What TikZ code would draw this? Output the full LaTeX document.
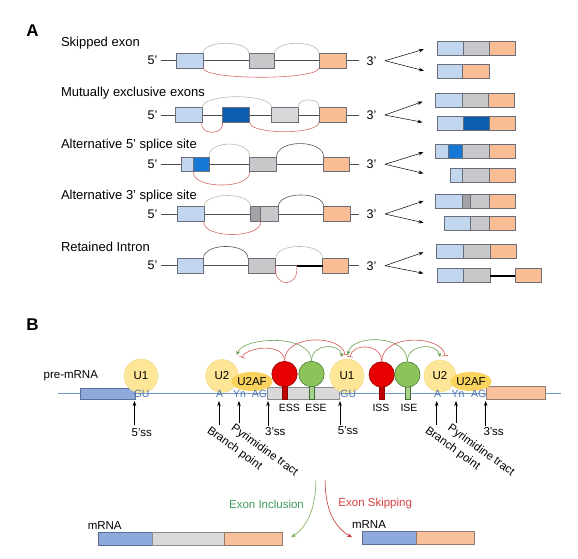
\documentclass[tikz,border=0pt]{standalone}
\usepackage{fontspec}
\setmainfont{Liberation Sans}
\usetikzlibrary{arrows.meta,shapes.geometric}
% panel A colours
\definecolor{lb}{HTML}{C3D6F0}
\definecolor{gr}{HTML}{C8C8CB}
\definecolor{og}{HTML}{F9BC93}
\definecolor{db}{HTML}{0A5DAF}
\definecolor{mb}{HTML}{1478D4}
\definecolor{dg}{HTML}{A3A3A6}
\definecolor{lg}{HTML}{D8D8DA}
\definecolor{exedge}{HTML}{6B6E78}
\definecolor{arclight}{HTML}{B8BBAA}
\definecolor{arcdark}{HTML}{555555}
\definecolor{arcred}{HTML}{D46A6A}
\definecolor{mlinec}{HTML}{4D4D4D}
% panel B colours
\definecolor{bline}{HTML}{6C9BD2}
\definecolor{bblue}{HTML}{8EA9DB}
\definecolor{bblueE}{HTML}{5A6E96}
\definecolor{bgrey}{HTML}{D9D9D9}
\definecolor{bgreyE}{HTML}{8C8C8C}
\definecolor{borange}{HTML}{F8C19C}
\definecolor{borangeE}{HTML}{8F7A6E}
\definecolor{uyel}{HTML}{FEE699}
\definecolor{uyelE}{HTML}{F0D788}
\definecolor{uaf}{HTML}{FAD35E}
\definecolor{cred}{HTML}{E60000}
\definecolor{cdred}{HTML}{8B0000}
\definecolor{sred}{HTML}{C00000}
\definecolor{cgreen}{HTML}{8DC35B}
\definecolor{cdgreen}{HTML}{3F6F2A}
\definecolor{sgreen}{HTML}{A9D18E}
\definecolor{seqblue}{HTML}{4E73AE}
\definecolor{garc}{HTML}{6E9E4E}
\definecolor{rarc}{HTML}{D55555}
\definecolor{inctext}{HTML}{3E9B5E}
\definecolor{incarrow}{HTML}{7BAA55}
\definecolor{skiptext}{HTML}{D64040}
\definecolor{skiparrow}{HTML}{C83232}
\begin{document}
\begin{tikzpicture}[x=1pt,y=-1pt,
  font=\fontsize{13}{15}\selectfont,
  ex/.style={draw=exedge, line width=0.6pt, inner sep=0pt, outer sep=0pt, anchor=west, minimum height=14.5},
  res/.style={ex, minimum height=14},
  lbl/.style={anchor=west, inner sep=0pt},
  pfive/.style={inner sep=0pt, inner xsep=3.5pt, font=\fontsize{12.5}{14}\selectfont},
  pthree/.style={inner sep=0pt, inner xsep=7pt, font=\fontsize{12.5}{14}\selectfont},
  mline/.style={draw=mlinec, line width=0.8pt},
  arcL/.style={draw=arclight, line width=0.6pt},
  arcD/.style={draw=arcdark, line width=0.6pt},
  arcR/.style={draw=arcred, line width=0.6pt},
  br/.style={-{Stealth[length=5pt,width=3.5pt]}, line width=0.5pt},
  bex/.style={line width=0.6pt, inner sep=0pt, outer sep=0pt, anchor=west},
  ucirc/.style={circle, fill=uyel, draw=uyelE, line width=0.4pt, inner sep=0pt, font=\fontsize{11.5}{13}\selectfont},
  uafel/.style={ellipse, fill=uaf, inner sep=0pt, minimum width=40, minimum height=19, font=\fontsize{11.5}{13}\selectfont},
  redc/.style={circle, fill=cred, draw=cdred, line width=0.5pt, minimum size=25.5, inner sep=0pt},
  greenc/.style={circle, fill=cgreen, draw=cdgreen, line width=0.5pt, minimum size=25.5, inner sep=0pt},
  stemr/.style={fill=sred, draw=cdred, line width=0.4pt, inner sep=0pt, anchor=north, minimum height=14},
  stemg/.style={fill=sgreen, draw=cdgreen, line width=0.4pt, inner sep=0pt, anchor=north, minimum height=14},
  seq/.style={text=seqblue, inner sep=0pt, font=\fontsize{10.5}{12}\selectfont},
  small/.style={inner sep=0pt, font=\fontsize{10.5}{12}\selectfont},
  lab/.style={inner sep=0pt, anchor=north west, font=\fontsize{11.5}{13}\selectfont},
  rot/.style={anchor=north west, rotate=-36, inner sep=0pt, font=\fontsize{11.5}{13}\selectfont},
  up/.style={-{Stealth[length=5pt,width=3.5pt]}, line width=0.5pt},
  ga/.style={draw=garc, line width=0.6pt, -{Stealth[length=4pt,width=4pt]}},
  ra/.style={draw=rarc, line width=0.6pt, -{Bar[width=6pt]}},
]
\useasboundingbox (0,0) rectangle (578,559);

%================ PANEL A ================
\node[inner sep=0pt, font=\bfseries\fontsize{17}{20}\selectfont] (A) at (32.4,30.5) {A};

% ---- Row 1: skipped exon
\node[lbl] (l1) at (60.8,42.7) {Skipped exon};
\node[pfive] (p1) at (152.6,60.7) {5’};
\node[pthree] (q1) at (371.5,60.7) {3’};
\draw[mline] (p1.east) -- (q1.west);
\node[ex, fill=lb, minimum width=26.9] (a11) at (176.2,60.7) {};
\node[ex, fill=gr, minimum width=25.8] (a12) at (248.8,60.7) {};
\node[ex, fill=og, minimum width=27] (a13) at (318.8,60.7) {};
\draw[arcL] (a11.north east) .. controls +(0,-13.5) and +(0,-13.5) .. (a12.north west);
\draw[arcL] (a12.north east) .. controls +(0,-13.5) and +(0,-13.5) .. (a13.north west);
\draw[arcR] (a11.south east) .. controls +(0,12.4) and +(0,12.4) .. (a13.south west);
\coordinate (o1) at (385.1,60.7);
\coordinate (u1) at (423.9,49.3);
\coordinate (d1) at (423.9,70.7);
\draw[br] (o1) -- (u1);
\draw[br] (o1) -- (d1);
\node[res, fill=lb, minimum width=26.5] (r11a) at (436.8,48) {};
\node[res, fill=gr, minimum width=26.2] (r11b) at (r11a.east) {};
\node[res, fill=og, minimum width=25.8] (r11c) at (r11b.east) {};
\node[res, fill=lb, minimum width=25.8] (r12a) at (436.8,71.3) {};
\node[res, fill=og, minimum width=26.9] (r12b) at (r12a.east) {};

% ---- Row 2: mutually exclusive exons
\node[lbl] (l2) at (60.8,93.3) {Mutually exclusive exons};
\node[pfive] (p2) at (152.6,115) {5’};
\node[pthree] (q2) at (371.5,115) {3’};
\draw[mline] (p2.east) -- (q2.west);
\node[ex, fill=lb, minimum width=26.5] (a21) at (175.5,115) {};
\node[ex, fill=db, minimum width=27.3] (a22) at (222.3,115) {};
\node[ex, fill=lg, minimum width=26.9] (a23) at (271.7,115) {};
\node[ex, fill=og, minimum width=27] (a24) at (318.8,115) {};
\draw[arcL] (a21.north east) .. controls +(0,-14.7) and +(0,-14.7) .. (a23.north west);
\draw[arcL] (a23.north east) .. controls +(-3,-10.5) and +(3,-10.5) .. (a24.north west);
\draw[arcR] (a21.south east) .. controls +(-3,13.4) and +(3,13.4) .. (a22.south west);
\draw[arcR] (a22.south east) .. controls +(0,12.6) and +(0,12.6) .. (a24.south west);
\coordinate (o2) at (384.8,115);
\coordinate (u2) at (422.5,101.7);
\coordinate (d2) at (422.5,122.3);
\draw[br] (o2) -- (u2);
\draw[br] (o2) -- (d2);
\node[res, fill=lb, minimum width=26.9] (r21a) at (435.7,100.5) {};
\node[res, fill=gr, minimum width=25.8] (r21b) at (r21a.east) {};
\node[res, fill=og, minimum width=25.8] (r21c) at (r21b.east) {};
\node[res, fill=lb, minimum width=26.2] (r22a) at (436.8,123.7) {};
\node[res, fill=db, minimum width=26.5] (r22b) at (r22a.east) {};
\node[res, fill=og, minimum width=25.8] (r22c) at (r22b.east) {};

% ---- Row 3: alternative 5' splice site
\node[lbl] (l3) at (60.8,145) {Alternative 5’ splice site};
\node[pfive] (p3) at (152.6,164.3) {5’};
\node[pthree] (q3) at (371.5,164.3) {3’};
\draw[mline] (p3.east) -- (q3.west);
\node[ex, fill=lb, minimum width=11.8] (a31a) at (181.7,164.3) {};
\node[ex, fill=mb, minimum width=15.5] (a31b) at (a31a.east) {};
\node[ex, fill=gr, minimum width=26.9] (a32) at (249.6,164.3) {};
\node[ex, fill=og, minimum width=25.7] (a33) at (323.7,164.3) {};
\draw[arcL] (a31b.north east) .. controls +(-2,-17.3) and +(2,-17.3) .. (a32.north west);
\draw[arcD] (a32.north east) .. controls +(0,-18) and +(0,-18) .. (a33.north west);
\draw[arcR] (a31a.south east) .. controls +(-2,18) and +(2,18) .. (a32.south west);
\coordinate (o3) at (385,164.3);
\coordinate (u3) at (423.5,152.3);
\coordinate (d3) at (423.5,173.3);
\draw[br] (o3) -- (u3);
\draw[br] (o3) -- (d3);
\node[res, fill=lb, minimum width=12.1] (r31a) at (435.7,151.2) {};
\node[res, fill=mb, minimum width=14.8] (r31b) at (r31a.east) {};
\node[res, fill=gr, minimum width=26.2] (r31c) at (r31b.east) {};
\node[res, fill=og, minimum width=26.5] (r31d) at (r31c.east) {};
\node[res, fill=lb, minimum width=12.2] (r32a) at (450.4,175) {};
\node[res, fill=gr, minimum width=26.2] (r32b) at (r32a.east) {};
\node[res, fill=og, minimum width=26.5] (r32c) at (r32b.east) {};

% ---- Row 4: alternative 3' splice site
\node[lbl] (l4) at (60.8,196) {Alternative 3’ splice site};
\node[pfive] (p4) at (152.6,214) {5’};
\node[pthree] (q4) at (371.5,214) {3’};
\draw[mline] (p4.east) -- (q4.west);
\node[ex, fill=lb, minimum width=26.1] (a41) at (177.7,214) {};
\node[ex, fill=dg, minimum width=9.9] (a42a) at (250.7,214) {};
\node[ex, fill=gr, minimum width=17.7] (a42b) at (a42a.east) {};
\node[ex, fill=og, minimum width=26.5] (a43) at (323.7,214) {};
\draw[arcL] (a41.north east) .. controls +(0,-15) and +(0,-15) .. (a42a.north west);
\draw[arcD] (a42b.north east) .. controls +(0,-15.7) and +(0,-15.7) .. (a43.north west);
\draw[arcR] (a41.south east) .. controls +(-2,17.7) and +(2,17.7) .. (a42b.south west);
\coordinate (o4) at (385,214);
\coordinate (u4) at (423.5,201);
\coordinate (d4) at (423.5,222.7);
\draw[br] (o4) -- (u4);
\draw[br] (o4) -- (d4);
\node[res, fill=lb, minimum width=26.9] (r41a) at (435.7,201.2) {};
\node[res, fill=dg, minimum width=8.1] (r41b) at (r41a.east) {};
\node[res, fill=gr, minimum width=18.8] (r41c) at (r41b.east) {};
\node[res, fill=og, minimum width=25.8] (r41d) at (r41c.east) {};
\node[res, fill=lb, minimum width=26.5] (r42a) at (444.2,223.7) {};
\node[res, fill=gr, minimum width=18.8] (r42b) at (r42a.east) {};
\node[res, fill=og, minimum width=25.8] (r42c) at (r42b.east) {};

% ---- Row 5: retained intron
\node[lbl] (l5) at (60.8,246.7) {Retained Intron};
\node[pfive] (p5) at (152.6,265.7) {5’};
\node[pthree] (q5) at (371.5,265.7) {3’};
\draw[mline] (p5.east) -- (q5.west);
\node[ex, fill=lb, minimum width=26.6] (a51) at (176.9,265.7) {};
\node[ex, fill=gr, minimum width=27.7] (a52) at (248,265.7) {};
\node[ex, fill=og, minimum width=26.1] (a53) at (322.6,265.7) {};
\coordinate (k5) at (296.7,265.7);
\draw[line width=2.2pt] (k5) -- (a53.west);
\draw[arcD] (a51.north east) .. controls +(0,-16) and +(0,-16) .. (a52.north west);
\draw[arcL] (a52.north east) .. controls +(0,-16) and +(0,-16) .. (a53.north west);
\draw[arcR] (a52.east) .. controls +(-3,22.7) and +(3,22.7) .. (k5);
\coordinate (o5) at (385,265.7);
\coordinate (u5) at (423.5,252.3);
\coordinate (d5) at (423.5,273.3);
\draw[br] (o5) -- (u5);
\draw[br] (o5) -- (d5);
\node[res, fill=lb, minimum width=27.3] (r51a) at (436,251.3) {};
\node[res, fill=gr, minimum width=26.6] (r51b) at (r51a.east) {};
\node[res, fill=og, minimum width=26.2] (r51c) at (r51b.east) {};
\node[res, fill=lb, minimum width=25.7] (r52a) at (437.6,275.7) {};
\node[res, fill=gr, minimum width=26.9] (r52b) at (r52a.east) {};
\node[res, fill=og, minimum width=26.1] (r52c) at (515,275.7) {};
\draw[line width=2.2pt] (r52b.east) -- (r52c.west);

%================ PANEL B ================
\node[inner sep=0pt, font=\bfseries\fontsize{17}{20}\selectfont] (B) at (32.5,325) {B};
\node[inner sep=0pt, font=\fontsize{11.5}{13}\selectfont] (pre) at (70.8,376) {pre-mRNA};
\coordinate (Ls) at (58,393);
\coordinate (Le) at (561,393);
\draw[draw=bline, line width=0.8pt] (Ls) -- (Le);
\node[bex, fill=bblue, draw=bblueE, minimum width=55, minimum height=11.5] (e1) at (80,393.7) {};
\node[bex, fill=bgrey, draw=bgreyE, minimum width=71.3, minimum height=12] (e2) at (267.7,393) {};
\node[bex, fill=borange, draw=borangeE, minimum width=58.3, minimum height=13] (e3) at (486.7,392.7) {};

% stems and regulatory elements
\node[stemr, minimum width=5.5] (sess) at (284.5,385) {};
\node[stemg, minimum width=5] (sese) at (311.5,385) {};
\node[stemr, minimum width=4.7, minimum height=12.5] (siss) at (381.7,386) {};
\node[stemg, minimum width=5, minimum height=12.5] (sise) at (407.5,386) {};
\node[redc] (ess) at (284.5,374) {};
\node[greenc] (ese) at (311.5,374) {};
\node[redc] (iss) at (381.7,374.5) {};
\node[greenc] (ise) at (407.3,374.5) {};

% snRNPs
\node[ucirc, minimum size=34] (u1a) at (141,376) {U1};
\node[ucirc, minimum size=33] (u2a) at (222,376) {U2};
\node[uafel] (afa) at (252,381.5) {U2AF};
\node[ucirc, minimum size=34] (u1b) at (347,376) {U1};
\node[ucirc, minimum size=32] (u2b) at (440,376) {U2};
\node[uafel] (afb) at (471,381.5) {U2AF};

% sequence letters
\node[seq] (gu1) at (141.7,394.3) {GU};
\node[seq] (aa1) at (219.7,394.3) {A};
\node[seq] (yn1) at (239.5,394.3) {Yn};
\node[seq] (ag1) at (259.5,394.3) {AG};
\node[seq] (gu2) at (348.3,394.3) {GU};
\node[seq] (aa2) at (437.5,394.3) {A};
\node[seq] (yn2) at (458,394.3) {Yn};
\node[seq] (ag2) at (478.7,394.3) {AG};

% element labels
\node[small] (tess) at (289.3,408.3) {ESS};
\node[small] (tese) at (316,408.3) {ESE};
\node[small] (tiss) at (381,408.3) {ISS};
\node[small] (tise) at (409,408.3) {ISE};

% regulatory arcs
\coordinate (eL1) at (242,357.5);
\coordinate (eL2) at (237,355);
\coordinate (eM1) at (345,355);
\coordinate (eM2) at (342,357);
\coordinate (eM3) at (350,357);
\coordinate (eM4) at (348,355);
\coordinate (eR1) at (445,356);
\coordinate (eR2) at (440,357);
\draw[ra] (ess.north) .. controls (284.5,342) and (246,347) .. (eL1);
\draw[ga] (ese.north) .. controls (311.5,333) and (242,337) .. (eL2);
\draw[ra] (ess.north) .. controls (284.5,333) and (343,335) .. (eM1);
\draw[ga] (ese.north) .. controls (311.5,343) and (340,343) .. (eM2);
\draw[ra] (iss.north) .. controls (381.7,343) and (352,343) .. (eM3);
\draw[ga] (ise.north) .. controls (407.3,333) and (350,335) .. (eM4);
\draw[ra] (iss.north) .. controls (381.7,333) and (443,335) .. (eR1);
\draw[ga] (ise.north) .. controls (407.3,343) and (438,343) .. (eR2);

% site arrows
\coordinate (t1) at (134.5,425); \coordinate (h1) at (134.5,401);
\coordinate (t2) at (219,425);   \coordinate (h2) at (219,401);
\coordinate (t3) at (239,423);   \coordinate (h3) at (239,401);
\coordinate (t4) at (268,426);   \coordinate (h4) at (268,401);
\coordinate (t5) at (340,425);   \coordinate (h5) at (340,401);
\coordinate (t6) at (436.7,425); \coordinate (h6) at (436.7,401);
\coordinate (t7) at (456,423);   \coordinate (h7) at (456,401);
\coordinate (t8) at (485.7,426); \coordinate (h8) at (485.7,401);
\foreach \i in {1,...,8} { \draw[up] (t\i) -- (h\i); }

\node[lab] (ss1) at (131.5,428.5) {5’ss};
\node[lab] (ss2) at (265,427) {3’ss};
\node[lab] (ss3) at (337.7,426.5) {5’ss};
\node[lab] (ss4) at (483.3,427) {3’ss};
\node[rot] (bp1) at (211.5,425) {Branch point};
\node[rot] (py1) at (235.5,422.5) {Pyrimidine tract};
\node[rot] (bp2) at (429.5,425) {Branch point};
\node[rot] (py2) at (452,422.5) {Pyrimidine tract};

% outcome arrows
\coordinate (gs) at (315.9,480);
\coordinate (ge) at (291.2,537.3);
\coordinate (rs) at (325.1,480);
\coordinate (re) at (352,537.3);
\draw[draw=incarrow, line width=0.6pt, -{Stealth[length=5pt,width=4pt]}] (gs) .. controls (315.9,512) and (305,528) .. (ge);
\draw[draw=skiparrow, line width=0.6pt, -{Stealth[length=5pt,width=4pt]}] (rs) .. controls (325.1,512) and (336,528) .. (re);
\node[inner sep=0pt, text=inctext, font=\fontsize{11.5}{13}\selectfont] (inc) at (266.5,504) {Exon Inclusion};
\node[inner sep=0pt, text=skiptext, font=\fontsize{11.5}{13}\selectfont] (skp) at (375.2,504) {Exon Skipping};

% mRNAs
\node[inner sep=0pt, font=\fontsize{11.5}{13}\selectfont] (mr1) at (104.7,526) {mRNA};
\node[bex, fill=bblue, draw=bblueE, minimum width=53.9, minimum height=13.4] (m1a) at (98.7,539) {};
\node[bex, fill=bgrey, draw=bgreyE, minimum width=71.9, minimum height=13.4] (m1b) at (m1a.east) {};
\node[bex, fill=borange, draw=borangeE, minimum width=57.8, minimum height=13.4] (m1c) at (m1b.east) {};
\node[inner sep=0pt, font=\fontsize{11.5}{13}\selectfont] (mr2) at (369,525) {mRNA};
\node[bex, fill=bblue, draw=bblueE, minimum width=54.2, minimum height=13] (m2a) at (362.4,537.8) {};
\node[bex, fill=borange, draw=borangeE, minimum width=57.8, minimum height=13] (m2b) at (m2a.east) {};
\end{tikzpicture}
\end{document}
